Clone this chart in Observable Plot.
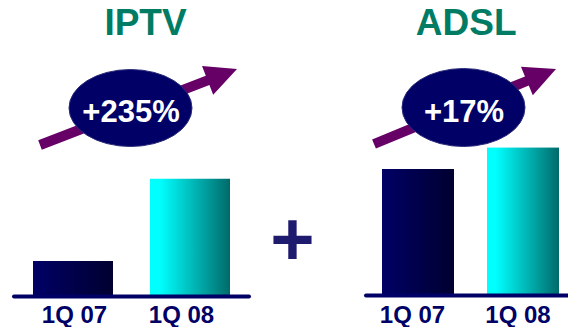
<!DOCTYPE html>
<html>
<head>
<meta charset="utf-8">
<script src="https://cdn.jsdelivr.net/npm/d3@7"></script>
<script src="https://cdn.jsdelivr.net/npm/@observablehq/plot@0.6"></script>
<style>
  html, body { margin: 0; padding: 0; background: #ffffff; }
  #chart { position: relative; width: 568px; height: 327px; overflow: hidden;
           font-family: "Liberation Sans", Arial, sans-serif; }
  #chart svg { position: absolute; top: 0; }
  #plus { position: absolute; left: 0; top: 0; width: 568px; height: 327px; pointer-events: none; }
</style>
</head>
<body>
<div id="chart"></div>
<script>
// ---- data ----
const quarters = ["1Q 07", "1Q 08"];
const titles = ["IPTV", "ADSL"];
const iptvValues = [100, 335];   // index, 1Q 07 = 100
const adslValues = [100, 117];   // index, 1Q 07 = 100
const growthLabels = ["+235%", "+17%"];
const joinerLabel = "+";

// ---- style / layout ----
const titleColor = "#007c64";
const labelColor = "#000066";
const baseColor = "#000066";
const arrowColor = "#660066";
const ellipseColor = "#000066";

const layouts = [
  { id: "iptv", left: 0, width: 260, marginLeft: 14, marginRight: 11,
    yDomain: [0, 400], yRange: [296, 156],
    padIn: 0.315, padOut: 0.157, align: 0.5,
    labelDx: [1, -9], labelDy: 9, titleDx: 13.5,
    tail: [40, 145], tip: [237, 69], ell: [130.5, 108, 61.5, 38.5] },
  { id: "adsl", left: 340, width: 228, marginLeft: 26, marginRight: 0,
    yDomain: [0, 100], yRange: [295, 169],
    padIn: 0.314, padOut: 0.117, align: 0.65,
    labelDx: [-6, -5.5], labelDy: 10, titleDx: -1.3,
    tail: [34, 144], tip: [216, 69], ell: [123.5, 107.5, 61.5, 39] }
];

const seriesValues = [iptvValues, adslValues];
const chart = document.getElementById("chart");

function arrowPolygon(T, P, w, L, h) {
  const dx = P[0] - T[0], dy = P[1] - T[1];
  const len = Math.hypot(dx, dy);
  const u = [dx / len, dy / len], n = [-u[1], u[0]];
  const B = [P[0] - L * u[0], P[1] - L * u[1]];
  const pt = (A, k) => [A[0] + k * n[0], A[1] + k * n[1]];
  return [pt(T, w), pt(B, w), pt(B, h), P, pt(B, -h), pt(B, -w), pt(T, -w)];
}

layouts.forEach((L, i) => {
  const data = quarters.map((q, j) => ({ q, v: seriesValues[i][j] }));
  const gOld = `gOld-${L.id}`, gNew = `gNew-${L.id}`;
  const svg = Plot.plot({
    width: L.width, height: 327,
    marginTop: 0, marginBottom: 0, marginLeft: L.marginLeft, marginRight: L.marginRight,
    style: { background: "transparent", fontFamily: "'Liberation Sans', Arial, sans-serif", overflow: "visible" },
    x: { domain: quarters, axis: null, paddingInner: L.padIn, paddingOuter: L.padOut, align: L.align },
    y: { domain: L.yDomain, range: L.yRange, axis: null },
    marks: [
      Plot.text([titles[i]], { frameAnchor: "top", dx: L.titleDx, dy: 8, lineAnchor: "top",
        fontSize: 37, fontWeight: "bold", fill: titleColor }),
      Plot.barY(data.filter(d => d.q === quarters[0]), { x: "q", y: "v", fill: `url(#${gOld})` }),
      Plot.barY(data.filter(d => d.q === quarters[1]), { x: "q", y: "v", fill: `url(#${gNew})` }),
      Plot.ruleY([0], { stroke: baseColor, strokeWidth: 4, strokeLinecap: "round" }),
      Plot.text(data.filter(d => d.q === quarters[0]), { x: "q", y: 0, text: "q", dx: L.labelDx[0], dy: L.labelDy,
        lineAnchor: "top", fontSize: 24, fontWeight: "bold", fill: labelColor }),
      Plot.text(data.filter(d => d.q === quarters[1]), { x: "q", y: 0, text: "q", dx: L.labelDx[1], dy: L.labelDy,
        lineAnchor: "top", fontSize: 24, fontWeight: "bold", fill: labelColor }),
      Plot.text([growthLabels[i]], { frameAnchor: "top-left", textAnchor: "middle",
        dx: L.ell[0] - L.marginLeft, dy: 99,
        lineAnchor: "top", fontSize: 31, fontWeight: "bold", fill: "#ffffff" })
    ]
  });
  svg.style.left = L.left + "px";

  // gradients
  const defs = d3.select(svg).insert("defs", ":first-child");
  const g1 = defs.append("linearGradient").attr("id", gOld).attr("x1", 0).attr("x2", 1).attr("y1", 0).attr("y2", 0);
  g1.append("stop").attr("offset", 0).attr("stop-color", "#000066");
  g1.append("stop").attr("offset", 1).attr("stop-color", "#000030");
  const g2 = defs.append("linearGradient").attr("id", gNew).attr("x1", 0).attr("x2", 1).attr("y1", 0).attr("y2", 0);
  g2.append("stop").attr("offset", 0).attr("stop-color", "#00ffff");
  g2.append("stop").attr("offset", 0.12).attr("stop-color", "#00ffff");
  g2.append("stop").attr("offset", 1).attr("stop-color", "#006a6a");

  // decoration: trend arrow + ellipse, placed below the growth label (last mark)
  const growthNode = svg.lastElementChild;
  const deco = d3.create("svg:g");
  deco.append("polygon")
    .attr("points", arrowPolygon(L.tail, L.tip, 5, 31.5, 15.5).map(p => p.join(",")).join(" "))
    .attr("fill", arrowColor);
  deco.append("ellipse")
    .attr("cx", L.ell[0]).attr("cy", L.ell[1]).attr("rx", L.ell[2]).attr("ry", L.ell[3])
    .attr("fill", ellipseColor).attr("stroke", "#2a2a7a").attr("stroke-width", 1);
  svg.insertBefore(deco.node(), growthNode);

  chart.appendChild(svg);
});

// joining plus sign
const plusSvg = d3.create("svg").attr("id", "plus").attr("width", 568).attr("height", 327);
plusSvg.append("text").attr("x", 292.5).attr("y", 265).attr("text-anchor", "middle")
  .attr("font-family", "'Liberation Sans', Arial, sans-serif").attr("font-weight", "bold")
  .attr("font-size", 76).attr("fill", "#1e1a6e").text(joinerLabel);
chart.appendChild(plusSvg.node());
</script>
</body>
</html>
